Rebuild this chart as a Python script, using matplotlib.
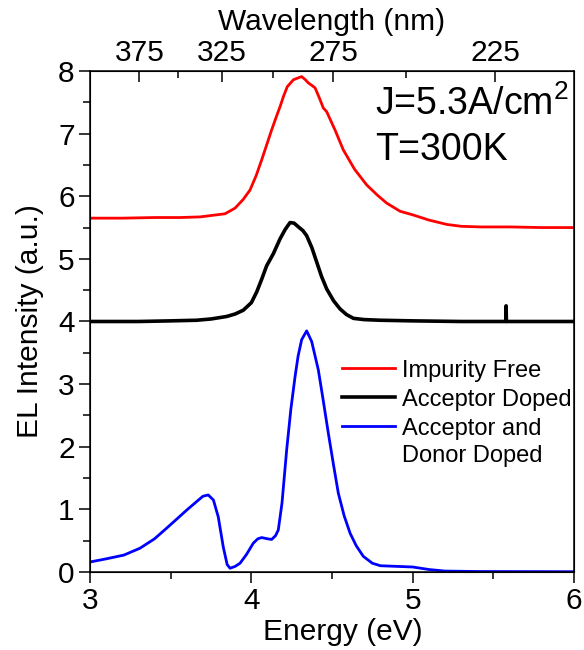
import matplotlib
matplotlib.use("Agg")
import matplotlib.pyplot as plt
from matplotlib.ticker import MultipleLocator, FixedLocator

plt.rcParams["font.family"] = ["Liberation Sans", "DejaVu Sans"]
plt.rcParams["mathtext.fontset"] = "custom"
plt.rcParams["mathtext.rm"] = "Liberation Sans"

# energy (eV) / intensity (a.u.)
e_free = [3.00, 3.20, 3.40, 3.558, 3.682, 3.744, 3.837, 3.899, 3.95, 3.992, 4.03, 4.064,
          4.095, 4.126, 4.155, 4.178, 4.20, 4.223, 4.261, 4.290, 4.312, 4.335, 4.353,
          4.375, 4.395, 4.42, 4.446, 4.467, 4.52, 4.570, 4.64, 4.715, 4.78, 4.839, 4.922,
          5.004, 5.10, 5.211, 5.30, 5.418, 5.60, 5.80, 6.00]
i_free = [5.65, 5.65, 5.66, 5.66, 5.67, 5.69, 5.72, 5.81, 5.95, 6.10, 6.33, 6.58,
          6.82, 7.06, 7.27, 7.43, 7.60, 7.75, 7.86, 7.89, 7.91, 7.86, 7.81,
          7.77, 7.73, 7.58, 7.41, 7.35, 7.05, 6.74, 6.43, 6.18, 6.02, 5.89, 5.76,
          5.70, 5.62, 5.55, 5.52, 5.51, 5.51, 5.50, 5.50]

e_acc = [3.00, 3.30, 3.50, 3.661, 3.75, 3.847, 3.90, 3.950, 4.00, 4.033, 4.065, 4.095,
         4.136, 4.178, 4.21, 4.240, 4.265, 4.292, 4.320, 4.343, 4.375, 4.405, 4.435,
         4.467, 4.51, 4.550, 4.59, 4.633, 4.70, 4.798, 5.00, 5.30, 5.577, 5.579, 5.581, 6.00]
i_acc = [4.00, 4.00, 4.01, 4.02, 4.04, 4.08, 4.12, 4.18, 4.30, 4.47, 4.68, 4.89,
         5.08, 5.32, 5.47, 5.58, 5.57, 5.51, 5.45, 5.37, 5.18, 4.95, 4.72,
         4.52, 4.33, 4.20, 4.11, 4.05, 4.03, 4.02, 4.01, 4.00, 4.00, 4.25, 4.00, 4.00]

e_accdon = [3.00, 3.10, 3.21, 3.31, 3.40, 3.475, 3.54, 3.60, 3.65, 3.70, 3.733, 3.765,
            3.795, 3.826, 3.85, 3.868, 3.90, 3.93, 3.97, 4.012, 4.04, 4.064, 4.10, 4.126,
            4.15, 4.167, 4.19, 4.219, 4.245, 4.271, 4.29, 4.312, 4.343, 4.374, 4.395,
            4.415, 4.445, 4.477, 4.51, 4.539, 4.575, 4.612, 4.65, 4.694, 4.75, 4.80,
            4.90, 5.00, 5.10, 5.20, 5.40, 6.00]
i_accdon = [0.16, 0.21, 0.27, 0.38, 0.53, 0.70, 0.85, 0.99, 1.10, 1.21, 1.23, 1.15,
            0.88, 0.40, 0.12, 0.06, 0.09, 0.14, 0.28, 0.46, 0.53, 0.55, 0.53, 0.52,
            0.58, 0.67, 1.10, 1.95, 2.60, 3.12, 3.45, 3.71, 3.85, 3.68, 3.45,
            3.23, 2.75, 2.22, 1.70, 1.26, 0.90, 0.62, 0.42, 0.25, 0.14, 0.10,
            0.09, 0.08, 0.04, 0.015, 0.008, 0.005]

wl_major = [375, 325, 275, 225]
wl_minor = [350, 300, 250]

fig = plt.figure(figsize=(5.84, 6.5), dpi=100)
ax = fig.add_axes([0.1541, 0.12, 0.8288, 0.7708])

ax.plot(e_free, i_free, color="#ff0000", lw=2, label="Impurity Free")
ax.plot(e_acc, i_acc, color="black", lw=2.6, label="Acceptor Doped")
ax.plot(e_accdon, i_accdon, color="#0000ff", lw=2, label="Acceptor and")

ax.set_xlim(3, 6)
ax.set_ylim(0, 8)
ax.xaxis.set_major_locator(MultipleLocator(1))
ax.xaxis.set_minor_locator(MultipleLocator(0.5))
ax.yaxis.set_major_locator(MultipleLocator(1))
ax.yaxis.set_minor_locator(MultipleLocator(0.5))
ax.tick_params(which="both", direction="out", labelsize=21.5, width=1.1, pad=3)
ax.tick_params(which="major", length=8)
ax.tick_params(which="minor", length=5)
for s in ax.spines.values():
    s.set_linewidth(1.1)

ax.set_xlabel("Energy (eV)", fontsize=21.5, labelpad=2)
ax.xaxis.label.set_x(0.523)
ax.set_ylabel("EL Intensity (a.u.)", fontsize=21.5, labelpad=10)

# wavelength axis on top
ax2 = ax.twiny()
ax2.set_xlim(ax.get_xlim())
ax2.xaxis.set_major_locator(FixedLocator([1240 / w for w in wl_major]))
ax2.xaxis.set_minor_locator(FixedLocator([1240 / w for w in wl_minor]))
ax2.set_xticklabels([str(w) for w in wl_major])
ax2.tick_params(which="both", direction="in", labelsize=21.5, width=1.1, pad=3)
ax2.tick_params(which="major", length=8)
ax2.tick_params(which="minor", length=5)
ax2.set_xlabel("Wavelength (nm)", fontsize=21.5, labelpad=6)

ax.legend(loc="upper left", bbox_to_anchor=(0.521, 0.424), frameon=False,
          fontsize=17, handlelength=2.25, handletextpad=0.3, labelspacing=0.3,
          borderpad=0, borderaxespad=0)
# second line of the last legend entry, sits under "Acceptor and"
ax.text(0.645, 0.2315, "Donor Doped", transform=ax.transAxes, fontsize=17,
        va="center", ha="left")

ax.text(0.589, 0.912, r"J=5.3A/cm$^\mathregular{2}$", transform=ax.transAxes,
        fontsize=27, va="baseline")
ax.text(0.589, 0.822, "T=300K", transform=ax.transAxes, fontsize=27, va="baseline")

fig.savefig("out.png", dpi=100)
